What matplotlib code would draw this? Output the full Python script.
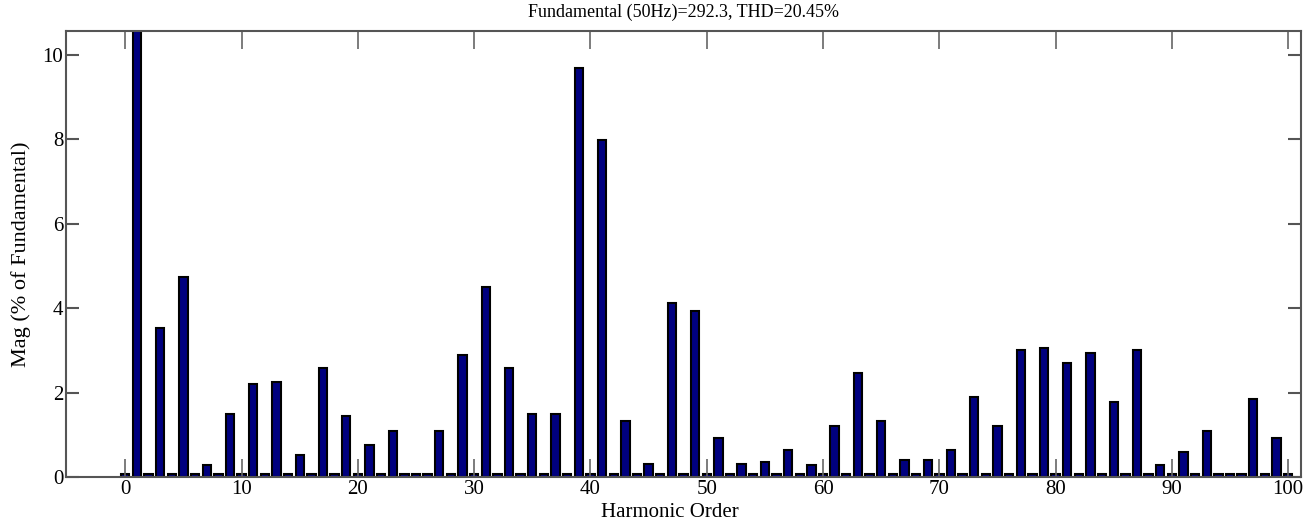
import matplotlib
matplotlib.use('Agg')
import matplotlib.pyplot as plt
import numpy as np

# harmonic spectrum (% of fundamental)
order = np.arange(0, 101)
mag = [0.07, 100.0, 0.07, 3.52, 0.07, 4.74, 0.07, 0.29, 0.07, 1.50,
       0.07, 2.19, 0.07, 2.25, 0.07, 0.51, 0.07, 2.59, 0.07, 1.45,
       0.07, 0.75, 0.07, 1.09, 0.07, 0.07, 0.07, 1.09, 0.07, 2.88,
       0.07, 4.50, 0.07, 2.59, 0.07, 1.50, 0.07, 1.50, 0.07, 9.68,
       0.07, 7.98, 0.07, 1.33, 0.07, 0.30, 0.07, 4.11, 0.07, 3.93,
       0.07, 0.93, 0.07, 0.30, 0.07, 0.36, 0.07, 0.63, 0.07, 0.29,
       0.07, 1.21, 0.07, 2.47, 0.07, 1.32, 0.07, 0.41, 0.07, 0.41,
       0.07, 0.63, 0.07, 1.90, 0.07, 1.21, 0.07, 3.00, 0.07, 3.06,
       0.07, 2.71, 0.07, 2.94, 0.07, 1.78, 0.07, 3.00, 0.07, 0.28,
       0.07, 0.58, 0.07, 1.09, 0.07, 0.07, 0.07, 1.84, 0.07, 0.92,
       0.07]

title = 'Fundamental (50Hz)=292.3, THD=20.45%'
xticks = [0, 10, 20, 30, 40, 50, 60, 70, 80, 90, 100]
yticks = [0, 2, 4, 6, 8, 10]

plt.rcParams['font.family'] = ['Liberation Serif', 'DejaVu Serif']

fig = plt.figure(figsize=(13.12, 5.27), dpi=100)
ax = fig.add_axes([0.0503, 0.0949, 0.9413, 0.8463])

ax.bar(order, mag, width=0.72, color='#00007f', edgecolor='black', linewidth=1.5)

ax.set_xlim(-5.1, 101.1)
ax.set_ylim(0, 10.56)
ax.set_xticks(xticks)
ax.set_yticks(yticks)

for s in ax.spines.values():
    s.set_color('#555555')
    s.set_linewidth(1.5)

ax.tick_params(axis='x', direction='in', length=13, width=1.2, color='#666666',
               top=True, labelsize=15, pad=2)
ax.tick_params(axis='y', direction='in', length=9.5, width=1.5, color='#555555',
               right=True, labelsize=15, pad=2)

ax.set_title(title, fontsize=13, pad=10)
ax.set_xlabel('Harmonic Order', fontsize=15)
ax.xaxis.set_label_coords(0.489, -0.058)
ax.set_ylabel('Mag (% of Fundamental)', fontsize=16, labelpad=8)

fig.savefig('out.png', dpi=100)
